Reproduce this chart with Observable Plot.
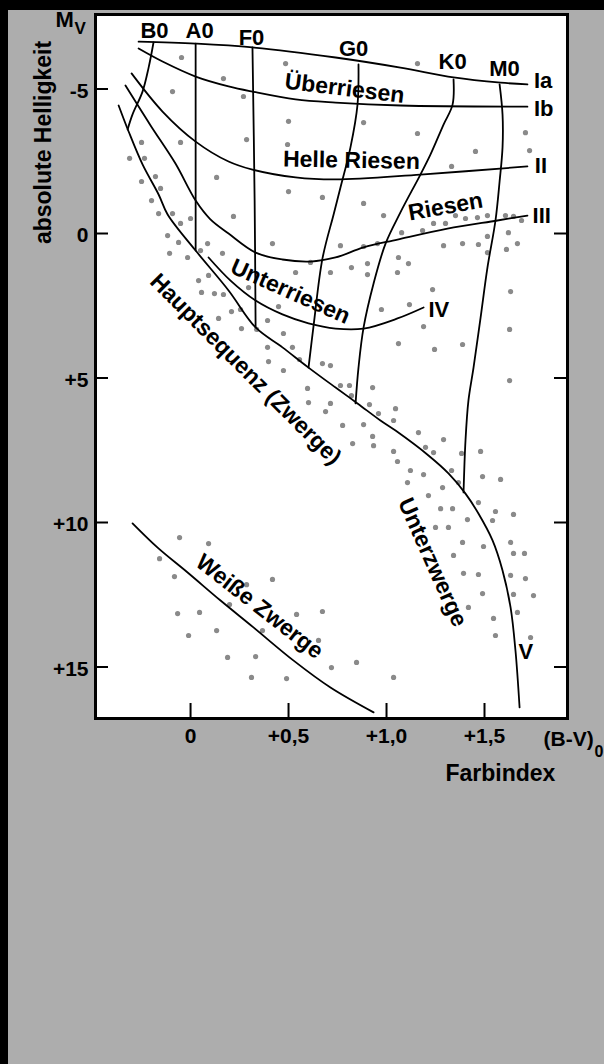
<!DOCTYPE html>
<html><head><meta charset="utf-8">
<script src="https://cdn.jsdelivr.net/npm/d3@7"></script>
<script src="https://cdn.jsdelivr.net/npm/@observablehq/plot@0.6"></script>
<style>
html,body{margin:0;padding:0;background:#adadad;overflow:hidden;width:604px;height:1064px;}
#chart{position:absolute;left:0;top:0;}
.bar{position:absolute;background:#000;z-index:2;}
</style></head><body>
<div id="chart"></div>
<div class="bar" style="left:0;top:0;width:604px;height:10px"></div>
<div class="bar" style="left:0;top:0;width:8px;height:1064px"></div>
<script>
// ---- ticks ----
const xTicks = [0, 0.5, 1.0, 1.5];
const xTickLabels = ["0", "+0,5", "+1,0", "+1,5"];
const yTicks = [-5, 0, 5, 10, 15];
const yTickLabels = ["-5", "0", "+5", "+10", "+15"];

// ---- luminosity class curves [B-V, Mv] ----
const classIa = [[-0.265,-6.64],[0.026,-6.57],[0.316,-6.44],[0.740,-6.09],[1.071,-5.74],[1.342,-5.40],[1.582,-5.22],[1.719,-5.16]];
const classIb = [[-0.265,-6.40],[-0.143,-5.95],[0.026,-5.43],[0.194,-5.09],[0.316,-4.91],[0.536,-4.64],[0.740,-4.53],[1.071,-4.43],[1.719,-4.39]];
const classII = [[-0.301,-5.54],[-0.143,-4.22],[0.026,-3.18],[0.194,-2.49],[0.316,-2.21],[0.536,-1.94],[0.740,-1.87],[1.173,-2.04],[1.719,-2.32]];
const classIII = [[-0.332,-5.12],[-0.204,-3.74],[-0.077,-2.42],[0.026,-1.14],[0.10,-0.5],[0.194,0],[0.332,0.66],[0.469,0.90],[0.612,0.97],[0.740,0.83],[0.883,0.48],[1.056,0.21],[1.311,-0.17],[1.566,-0.45],[1.719,-0.62]];
const classIV = [[0.092,0.83],[0.204,1.63],[0.332,2.32],[0.469,2.80],[0.602,3.11],[0.740,3.29],[0.883,3.29],[1.056,2.94],[1.189,2.56]];
const classV = [[-0.367,-4.43],[-0.316,-3.53],[-0.245,-2.39],[-0.163,-1.35],[-0.117,-0.66],[0.026,0.59],[0.194,1.97],[0.332,3.25],[0.469,3.94],[0.602,4.64],[0.740,5.33],[0.852,5.88],[0.969,6.47],[1.046,6.82],[1.214,7.68],[1.316,8.30],[1.403,9.00],[1.469,9.69],[1.541,10.62],[1.592,11.66],[1.633,12.94],[1.658,14.43],[1.679,16.40]];
const whiteDwarfs = [[-0.296,10.03],[-0.168,10.87],[-0.015,11.73],[0.153,12.70],[0.321,13.63],[0.526,14.78],[0.714,15.71],[0.934,16.57]];

// ---- spectral type lines ----
const typeB0 = [[-0.189,-6.61],[-0.214,-5.74],[-0.245,-4.91],[-0.296,-4.12],[-0.321,-3.60]];
const typeA0 = [[0.026,-6.57],[0.026,0.59]];
const typeF0 = [[0.316,-6.44],[0.327,-1.14],[0.332,3.25]];
const typeG0 = [[0.857,-5.85],[0.852,-4.46],[0.816,-2.98],[0.765,-1.59],[0.730,-0.66],[0.673,0.87],[0.628,3.18],[0.602,4.64]];
const typeK0 = [[1.342,-5.33],[1.337,-4.46],[1.291,-3.77],[1.224,-2.73],[1.173,-2.04],[1.071,-0.73],[0.995,0.35],[0.934,1.73],[0.883,3.25],[0.857,4.64],[0.842,5.88]];
const typeM0 = [[1.577,-5.16],[1.592,-4.12],[1.592,-2.98],[1.577,-1.80],[1.556,-0.45],[1.515,1.18],[1.480,2.91],[1.444,4.64],[1.418,5.78],[1.403,7.16],[1.393,8.96]];

// ---- stars [B-V, Mv] ----
const stars = [
[-0.046,-6.09],[0.168,-5.36],[-0.092,-4.91],[0.270,-4.74],[0.485,-5.88],[0.500,-3.88],[0.286,-3.25],[0.495,-3.08],[-0.250,-3.15],[-0.051,-3.15],[-0.311,-2.60],[-0.235,-2.60],[-0.179,-1.97],[-0.250,-1.80],[0.133,-1.94],[-0.153,-1.56],[-0.199,-1.14],[0.500,-1.45],[0.673,-1.25],
[1.158,-5.88],[0.883,-3.84],[1.158,-3.46],[1.454,-2.84],[1.332,-2.32],[1.709,-3.49],[1.730,-2.87],[0.883,-1.04],[0.985,-0.62],
[-0.163,-0.69],[-0.092,-0.69],[-0.051,-0.35],[0,-0.52],[-0.117,0.07],[-0.061,0.31],[-0.107,0.69],[-0.015,0.83],[0.051,0.59],[0.087,0.35],[0.163,0.69],[0.219,-0.59],[0.418,0.35],
[0.041,1.63],[0.056,2.04],[0.122,2.08],[0.168,2.11],[0.092,1.45],[0.296,1.87],[0.209,2.70],[0.255,2.63],[0.143,2.94],[0.260,3.29],[0.337,3.32],[0.393,3.01],[0.449,2.53],[0.474,3.46],[0.520,3.94],[0.393,3.94],[0.556,4.36],[0.673,4.50],[0.714,4.57],[0.398,4.43],[0.474,4.74],[0.536,1.35],[0.612,1.00],[0.714,1.35],[0.597,5.36],[0.602,5.85],
[1.240,-0.35],[1.301,-0.35],[1.352,-0.62],[1.403,-0.52],[1.464,-0.55],[1.515,-0.62],[1.607,-0.62],[1.648,-0.59],[1.689,-0.45],[1.622,-0.03],[1.668,0.35],[1.612,0.55],[1.515,0.10],[1.469,0.38],[1.515,0.66],[1.388,0.35],[1.291,0.42],[0.765,0.42],[0.883,0.45],[0.954,0.35],[1.077,-0.03],[1.184,-0.10],[0.821,1.18],[0.903,1.04],[0.903,1.42],[1.061,0.83],[1.112,1.04],[1.056,1.35],[1.235,1.94],[1.633,2.01],[0.974,2.63],[1.117,2.46],[1.189,3.22],[1.061,3.81],[1.245,4.01],[1.388,3.84],[1.628,3.32],[1.628,5.09],
[0.689,6.16],[0.714,5.88],[0.765,5.26],[0.811,5.26],[0.821,5.61],[0.929,5.33],[0.913,5.92],[0.959,6.23],[1.046,6.06],[0.776,6.64],[0.883,6.61],[0.929,7.02],[0.934,7.34],[0.827,7.27],[1.036,6.47],[1.163,6.89],[1.291,7.13],[1.036,7.54],[1.056,7.89],[1.122,8.20],[1.199,7.40],[1.240,7.58],[1.189,8.34],[1.332,8.20],[1.383,7.61],[1.480,7.54],
[1.286,8.79],[1.367,8.62],[1.490,8.41],[1.582,8.51],[1.107,8.62],[1.214,9.07],[1.276,9.52],[1.337,9.52],[1.469,9.31],[1.556,9.62],[1.541,9.93],[1.648,9.72],[1.250,10.17],[1.316,10.17],[1.413,9.90],[1.388,10.69],[1.495,10.83],[1.633,10.69],[1.342,11.14],[1.648,11.07],[1.704,11.07],[1.393,11.76],[1.469,11.80],[1.633,11.83],[1.709,11.94],[1.490,12.46],[1.648,12.49],[1.750,12.53],[1.418,12.94],[1.546,13.32],[1.668,13.11],[1.556,13.91],[1.735,13.98],
[-0.056,10.52],[0.092,10.73],[-0.158,11.25],[-0.082,11.87],[0.286,12.15],[0.418,11.97],[0.199,12.84],[-0.066,13.15],[0.046,13.11],[0.541,13.18],[0.673,13.08],[0.133,13.74],[-0.010,13.91],[0.367,13.74],[0.189,14.67],[0.332,14.64],[0.311,15.36],[0.490,15.40],[0.653,14.08],[0.719,15.02],[0.847,14.84],[1.036,15.36]
];

// ---- labels ----
const spectralNames = ["B0", "A0", "F0", "G0", "K0", "M0"];
const spectralX = [-0.184, 0.046, 0.311, 0.832, 1.337, 1.602];
const spectralY = [-7.02, -7.02, -6.78, -6.37, -5.92, -5.71];

const classNames = ["Ia", "Ib", "II", "III", "IV", "V"];
const classX = [1.752, 1.752, 1.757, 1.745, 1.214, 1.673];
const classY = [-5.28, -4.31, -2.34, -0.61, 2.63, 14.48];

const regionNames = ["Überriesen", "Helle Riesen", "Riesen", "Unterriesen", "Hauptsequenz (Zwerge)", "Unterzwerge", "Weiße Zwerge"];
const regionX = [0.786, 0.821, 1.301, 0.510, 0.281, 1.235, 0.352];
const regionY = [-5.02, -2.53, -0.93, 2.01, 4.70, 11.38, 12.91];
const regionAngle = [7, 1, -10, 24, 45, 66, 38];

const curves = [classIa, classIb, classII, classIII, classIV, classV, whiteDwarfs,
                typeB0, typeA0, typeF0, typeG0, typeK0, typeM0];

const xy = {x: d => d[0], y: d => d[1]};
const lineStyle = {...xy, curve: "catmull-rom", stroke: "black", strokeWidth: 1.8};
const idx = a => a.map((_, i) => i);
const font = "'Liberation Sans', Arial, Helvetica, sans-serif";

const chart = Plot.plot({
  width: 604, height: 1064,
  marginLeft: 95, marginRight: 37, marginTop: 14, marginBottom: 346,
  x: {domain: [-0.485, 1.9235]},
  y: {domain: [-7.578, 16.782], reverse: true},
  style: {background: "#adadad", fontFamily: font, fontWeight: "bold", color: "black"},
  marks: [
    Plot.frame({fill: "white"}),
    Plot.dot(stars, {...xy, r: 2.6, fill: "#8a8a8a"}),
    ...curves.map(c => Plot.line(c, lineStyle)),
    Plot.tickY(yTicks, {y: d => d, insetRight: 459, stroke: "black", strokeWidth: 2}),
    Plot.tickY(yTicks.filter(d => d >= 0), {y: d => d, insetLeft: 459, stroke: "black", strokeWidth: 2}),
    Plot.tickX(xTicks, {x: d => d, insetTop: 689, stroke: "black", strokeWidth: 2}),
    Plot.axisY(yTicks, {tickSize: 0, tickPadding: 7, tickFormat: d => yTickLabels[yTicks.indexOf(d)], fontSize: 21, fontWeight: "bold", fill: "black", label: null, dy: 2}),
    Plot.axisX(xTicks, {tickSize: 0, tickPadding: 10, tickFormat: d => xTickLabels[xTicks.indexOf(d)], fontSize: 21, fontWeight: "bold", fill: "black", label: null}),
    Plot.text(idx(spectralNames), {x: i => spectralX[i], y: i => spectralY[i], text: i => spectralNames[i], fontSize: 22, fontWeight: "bold", fill: "black"}),
    Plot.text(idx(classNames), {x: i => classX[i], y: i => classY[i], text: i => classNames[i], textAnchor: "start", fontSize: 22, fontWeight: "bold", fill: "black"}),
    Plot.text(idx(regionNames), {x: i => regionX[i], y: i => regionY[i], text: i => regionNames[i], rotate: i => regionAngle[i], fontSize: 23, fontWeight: "bold", fill: "black"}),
    Plot.text(["absolute Helligkeit"], {frameAnchor: "top-left", dx: -52, dy: 128, rotate: -90, textAnchor: "middle", lineAnchor: "middle", fontSize: 23, fontWeight: "bold", fill: "black"}),
    Plot.text(["M"], {frameAnchor: "top-left", dx: -40, dy: 12, textAnchor: "start", lineAnchor: "bottom", fontSize: 22, fontWeight: "bold", fill: "black"}),
    Plot.text(["V"], {frameAnchor: "top-left", dx: -21, dy: 19, textAnchor: "start", lineAnchor: "bottom", fontSize: 17, fontWeight: "bold", fill: "black"}),
    Plot.text(["(B-V)"], {frameAnchor: "bottom-left", dx: 448, dy: 27, textAnchor: "start", lineAnchor: "bottom", fontSize: 21, fontWeight: "bold", fill: "black"}),
    Plot.text(["0"], {frameAnchor: "bottom-left", dx: 499, dy: 38, textAnchor: "start", lineAnchor: "bottom", fontSize: 16, fontWeight: "bold", fill: "black"}),
    Plot.text(["Farbindex"], {frameAnchor: "bottom-left", dx: 350, dy: 62, textAnchor: "start", lineAnchor: "bottom", fontSize: 23, fontWeight: "bold", fill: "black"}),
    Plot.frame({stroke: "black", strokeWidth: 3})
  ]
});
document.getElementById("chart").appendChild(chart);
</script></body></html>
